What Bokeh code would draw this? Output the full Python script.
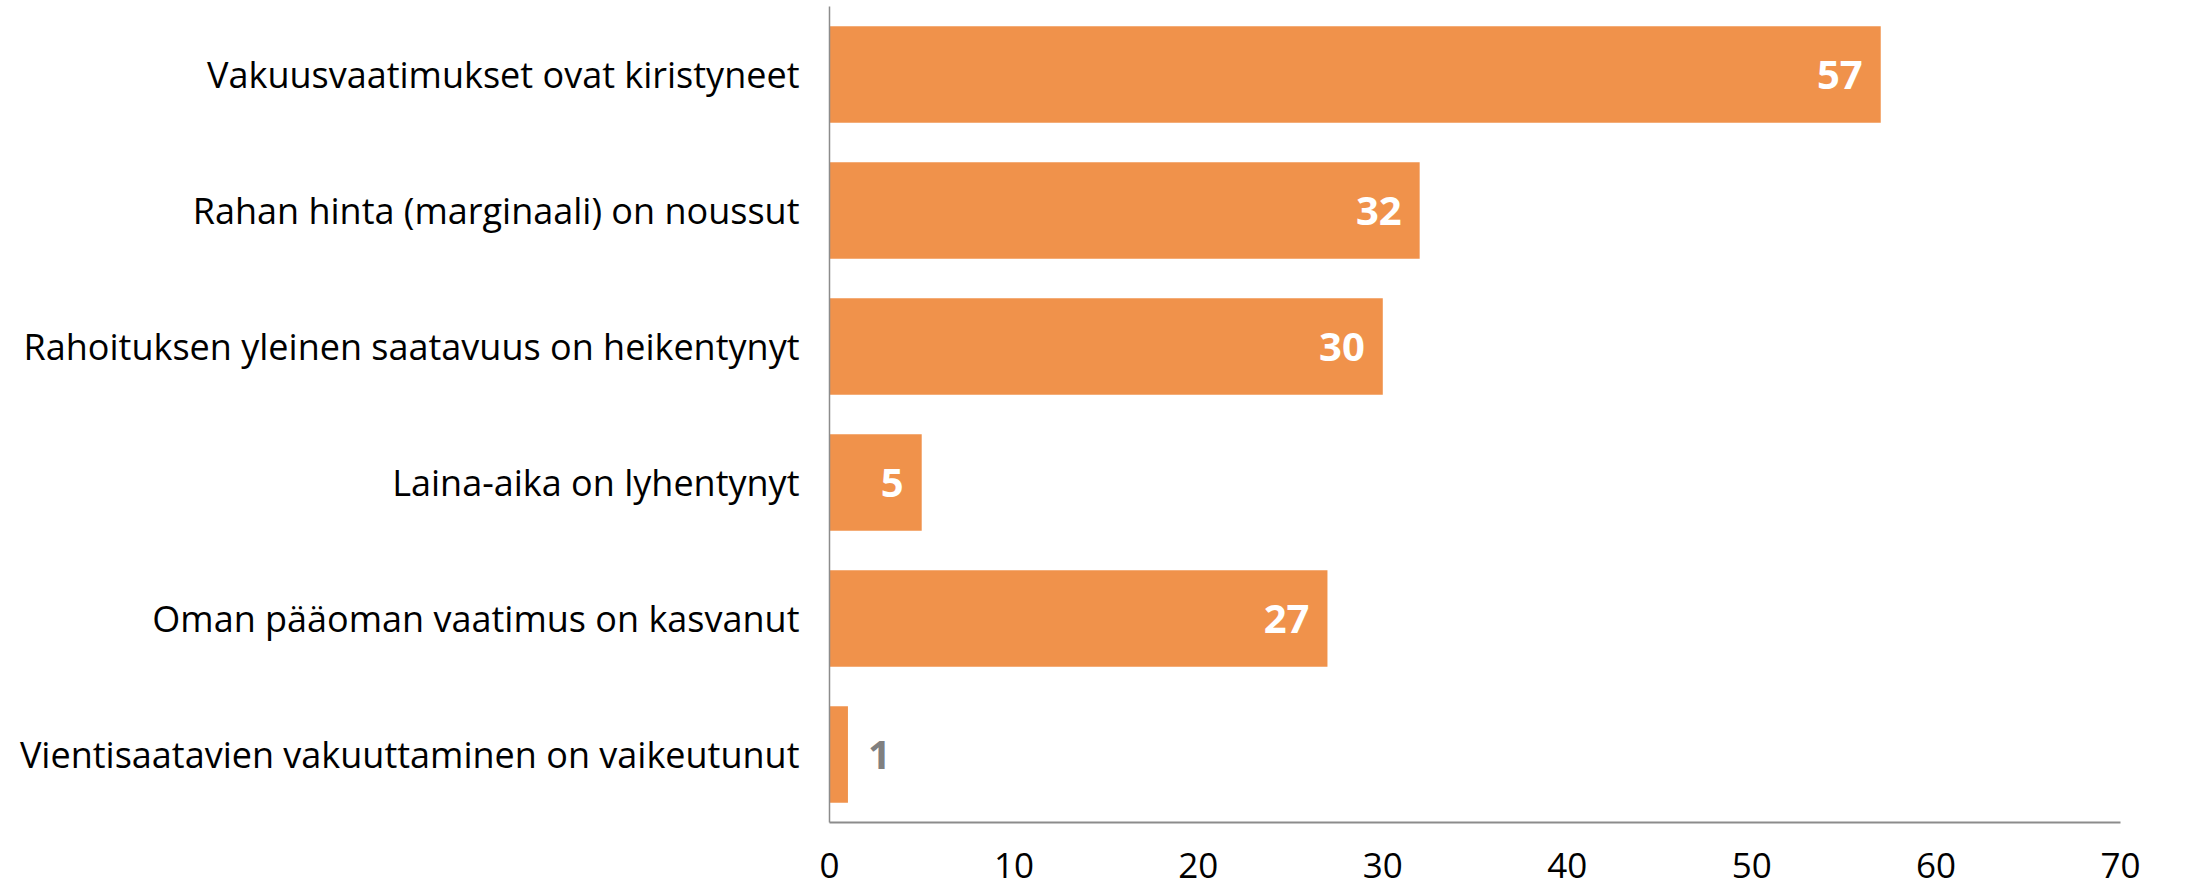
from bokeh.plotting import figure
from bokeh.models import FactorRange, FixedTicker, ColumnDataSource
from bokeh.core.properties import value
from bokeh.embed import file_html
from bokeh.resources import INLINE

categories = [
    "Vakuusvaatimukset ovat kiristyneet",
    "Rahan hinta (marginaali) on noussut",
    "Rahoituksen yleinen saatavuus on heikentynyt",
    "Laina-aika on lyhentynyt",
    "Oman pääoman vaatimus on kasvanut",
    "Vientisaatavien vakuuttaminen on vaikeutunut",
]
values = [57, 32, 30, 5, 27, 1]
x_ticks = [0, 10, 20, 30, 40, 50, 60, 70]

BAR = "#F0924B"
FONT = "Open Sans"

p = figure(
    y_range=FactorRange(factors=list(reversed(categories)), range_padding=0),
    x_range=(0, 70),
    width=2171, height=887,
    output_backend="svg", toolbar_location=None,
    min_border_left=829, min_border_right=51,
    min_border_top=6, min_border_bottom=65,
)
p.outline_line_color = None
p.xgrid.grid_line_color = None
p.ygrid.grid_line_color = None

src = ColumnDataSource(dict(cat=categories, val=values))
p.hbar(y="cat", right="val", left=0, height=0.71, source=src,
       fill_color=BAR, line_color=None)

inside = [v >= 3 for v in values]
in_src = ColumnDataSource(dict(
    cat=[c for c, i in zip(categories, inside) if i],
    val=[v for v, i in zip(values, inside) if i],
    txt=[str(v) for v, i in zip(values, inside) if i],
))
out_src = ColumnDataSource(dict(
    cat=[c for c, i in zip(categories, inside) if not i],
    val=[v for v, i in zip(values, inside) if not i],
    txt=[str(v) for v, i in zip(values, inside) if not i],
))
p.text(x="val", y="cat", text="txt", source=in_src, x_offset=-18,
       text_align="right", text_baseline="middle", text_color="white",
       text_font=value(FONT), text_font_style="bold", text_font_size="40px")
p.text(x="val", y="cat", text="txt", source=out_src, x_offset=20,
       text_align="left", text_baseline="middle", text_color="#808080",
       text_font=value(FONT), text_font_style="bold", text_font_size="40px")

p.xaxis.ticker = FixedTicker(ticks=x_ticks)
p.xaxis.major_tick_line_color = None
p.xaxis.minor_tick_line_color = None
p.xaxis.major_tick_out = 0
p.xaxis.major_tick_in = 0
p.xaxis.axis_line_color = "#8C8C8C"
p.xaxis.axis_line_width = 2
p.xaxis.major_label_standoff = 30
p.xaxis.major_label_text_font = FONT
p.xaxis.major_label_text_font_size = "35px"
p.xaxis.major_label_text_color = "black"

p.yaxis.major_tick_line_color = None
p.yaxis.minor_tick_line_color = None
p.yaxis.major_tick_out = 0
p.yaxis.major_tick_in = 0
p.yaxis.axis_line_color = "#8C8C8C"
p.yaxis.axis_line_width = 1.5
p.yaxis.major_label_standoff = 30
p.yaxis.major_label_text_font = FONT
p.yaxis.major_label_text_font_size = "36px"
p.yaxis.major_label_text_color = "black"

open("out.html", "w").write(file_html(p, INLINE))
